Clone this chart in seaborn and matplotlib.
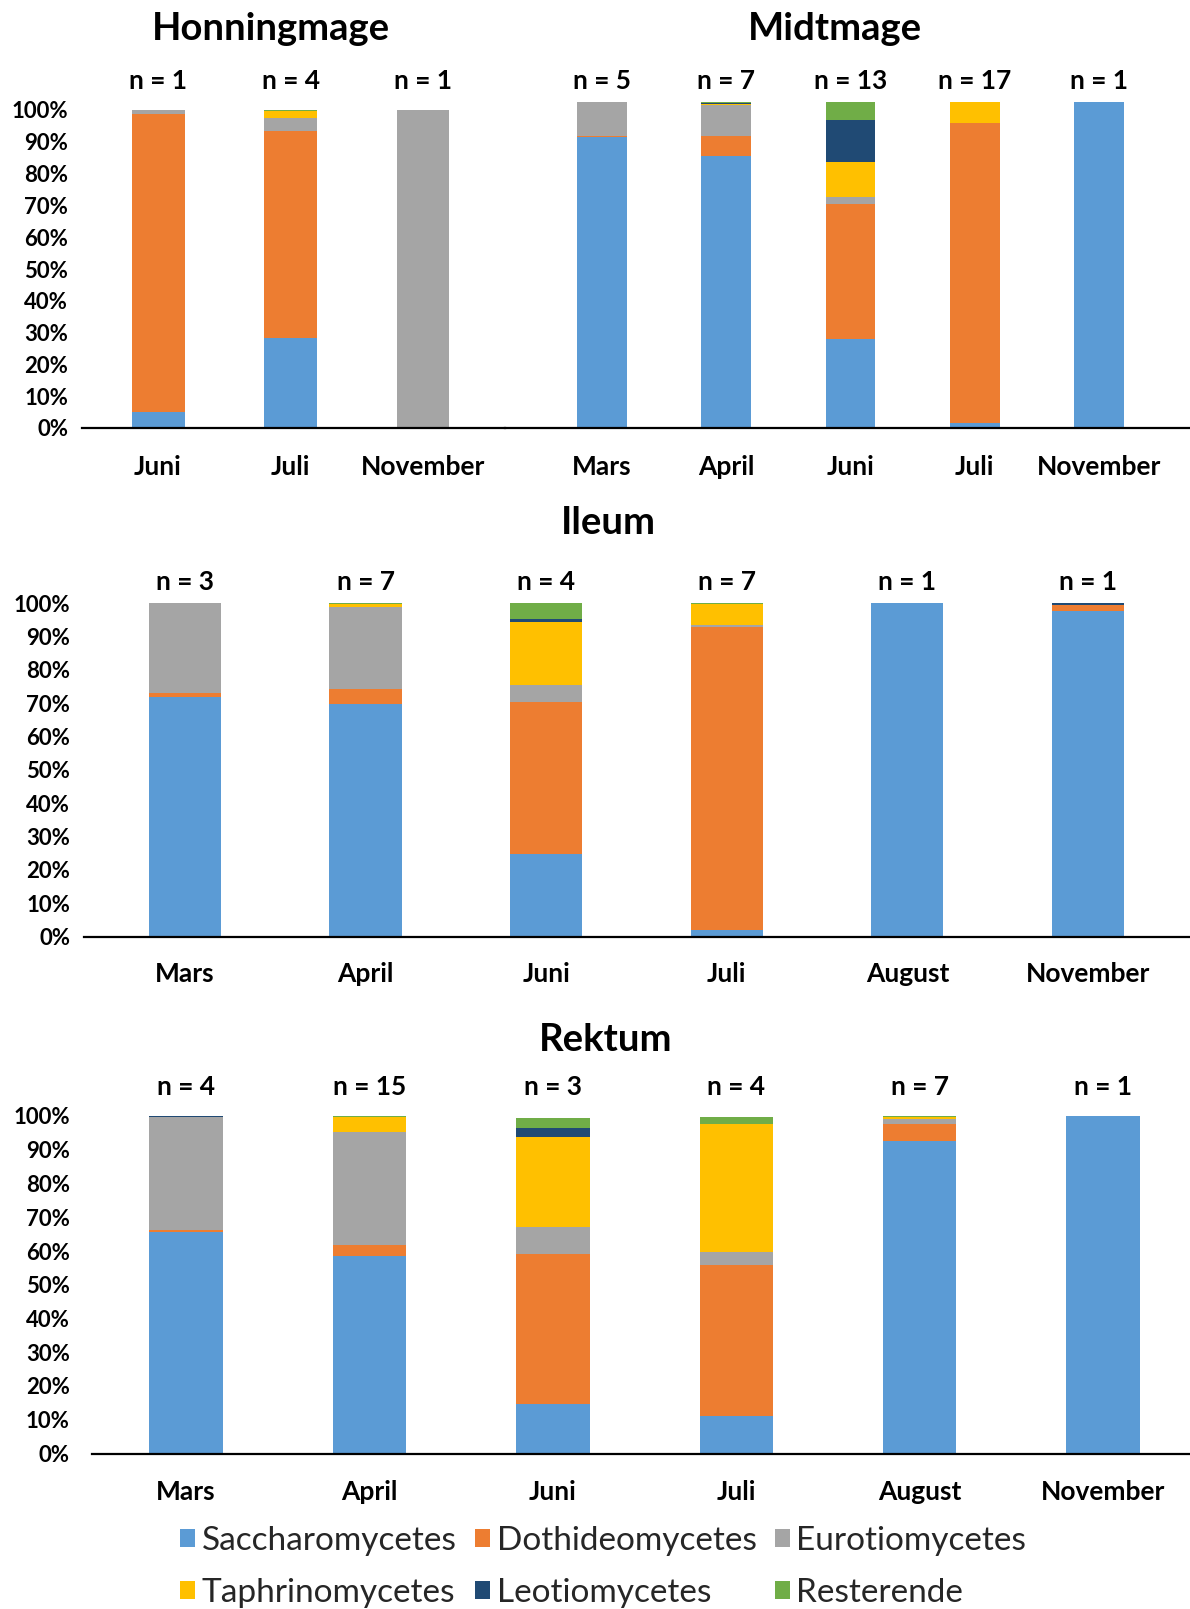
import matplotlib
matplotlib.use("Agg")
import matplotlib.pyplot as plt
import matplotlib.transforms as mtransforms
from matplotlib.patches import Patch
import seaborn as sns
import pandas as pd

# ---------------------------------------------------------------- data (%)
classes = ["Saccharomycetes", "Dothideomycetes", "Eurotiomycetes",
           "Taphrinomycetes", "Leotiomycetes", "Resterende"]
class_colors = ["#5B9BD5", "#ED7D31", "#A5A5A5", "#FFC000", "#204A74", "#70AD47"]

honning_months = ["Juni", "Juli", "November"]
honning_n = [1, 4, 1]
honning_sacch = [5.0, 28.3, 0.0]
honning_dothi = [93.6, 65.2, 0.0]
honning_euro = [1.4, 4.1, 100.0]
honning_taph = [0.0, 2.1, 0.0]
honning_leot = [0.0, 0.0, 0.0]
honning_rest = [0.0, 0.3, 0.0]

midt_months = ["Mars", "April", "Juni", "Juli", "November"]
midt_n = [5, 7, 13, 17, 1]
midt_sacch = [89.0, 83.2, 27.4, 1.5, 100.0]
midt_dothi = [0.4, 6.3, 41.1, 92.0, 0.0]
midt_euro = [10.3, 9.4, 2.4, 0.0, 0.0]
midt_taph = [0.0, 0.3, 10.7, 6.2, 0.0]
midt_leot = [0.3, 0.4, 12.7, 0.0, 0.0]
midt_rest = [0.0, 0.4, 5.7, 0.3, 0.0]

ileum_months = ["Mars", "April", "Juni", "Juli", "August", "November"]
ileum_n = [3, 7, 4, 7, 1, 1]
ileum_sacch = [71.7, 69.8, 24.7, 2.0, 100.0, 97.7]
ileum_dothi = [1.4, 4.3, 45.5, 90.9, 0.0, 1.6]
ileum_euro = [26.9, 24.8, 5.3, 0.4, 0.0, 0.2]
ileum_taph = [0.0, 0.7, 18.7, 6.3, 0.0, 0.0]
ileum_leot = [0.0, 0.0, 1.0, 0.0, 0.0, 0.5]
ileum_rest = [0.0, 0.4, 4.8, 0.4, 0.0, 0.0]

rektum_months = ["Mars", "April", "Juni", "Juli", "August", "November"]
rektum_n = [4, 15, 3, 4, 7, 1]
rektum_sacch = [65.7, 58.6, 14.8, 11.1, 92.6, 100.0]
rektum_dothi = [0.4, 3.3, 44.3, 44.8, 5.1, 0.0]
rektum_euro = [33.5, 33.5, 8.1, 3.7, 1.4, 0.0]
rektum_taph = [0.0, 4.2, 26.6, 38.1, 0.5, 0.0]
rektum_leot = [0.4, 0.0, 2.5, 0.0, 0.0, 0.0]
rektum_rest = [0.0, 0.4, 3.2, 1.9, 0.4, 0.0]

# ---------------------------------------------------------------- styling
sns.set_theme(style="white")
FONT = "Lato"
plt.rcParams["font.family"] = [FONT, "DejaVu Sans"]

W, H = 1190, 1609
fig = plt.figure(figsize=(W / 100, H / 100), dpi=100)
fig.patch.set_facecolor("white")


def add_axes_px(left, right, top, bottom):
    return fig.add_axes([left / W, 1 - bottom / H, (right - left) / W, (bottom - top) / H])


def long_table(months, series):
    rows = []
    for m_i, month in enumerate(months):
        total = 0.0
        for cls, vals in zip(classes, series):
            total += vals[m_i]
            rows.append({"maaned": month, "klasse": cls,
                         "andel": vals[m_i] / 100.0, "kum": total / 100.0})
    return pd.DataFrame(rows)


def stacked_panel(ax, months, series, n_vals, xlim, n_y, label_y,
                  show_y=True, ytick_pad=10):
    df = long_table(months, series)
    # draw cumulative totals from the top class down so each layer shows its share
    for cls, col in reversed(list(zip(classes, class_colors))):
        sub = df[df["klasse"] == cls]
        sns.barplot(data=sub, x="maaned", y="kum", order=months, color=col,
                    width=0.4, errorbar=None, linewidth=0, saturation=1,
                    ax=ax)
    ax.set_xlim(*xlim)
    ax.set_ylim(0, 1)
    ax.set_xlabel("")
    ax.set_ylabel("")
    ax.set_xticks([])
    for s in ["top", "right", "left"]:
        ax.spines[s].set_visible(False)
    ax.spines["bottom"].set_color("black")
    ax.spines["bottom"].set_linewidth(1.6)
    ax.patch.set_alpha(0)
    if show_y:
        ticks = [i / 10 for i in range(11)]
        ax.set_yticks(ticks)
        ax.set_yticklabels([f"{int(t * 100)}%" for t in ticks],
                           fontsize=16, fontweight="bold", color="black")
        ax.tick_params(axis="y", length=0, pad=ytick_pad)
    else:
        ax.set_yticks([])
    trans = mtransforms.blended_transform_factory(ax.transData, fig.transFigure)
    for i, (m, n) in enumerate(zip(months, n_vals)):
        ax.text(i, 1 - n_y / H, f"n = {n}", transform=trans, ha="center",
                va="baseline", fontsize=19, fontweight="bold", color="black")
        ax.text(i, 1 - label_y / H, m, transform=trans, ha="center",
                va="baseline", fontsize=19, fontweight="bold", color="black")


# Honningmage
ax_h = add_axes_px(82, 505, 110, 428)
stacked_panel(ax_h, honning_months,
              [honning_sacch, honning_dothi, honning_euro,
               honning_taph, honning_leot, honning_rest],
              honning_n, (-0.574, 2.619), 89, 475, show_y=True, ytick_pad=10)

# Midtmage
ax_m = add_axes_px(505, 1190, 101.5, 428)
stacked_panel(ax_m, midt_months,
              [midt_sacch, midt_dothi, midt_euro,
               midt_taph, midt_leot, midt_rest],
              midt_n, (-0.781, 4.733), 89, 475, show_y=False)

# Ileum
ax_i = add_axes_px(84, 1190, 603, 936.5)
stacked_panel(ax_i, ileum_months,
              [ileum_sacch, ileum_dothi, ileum_euro,
               ileum_taph, ileum_leot, ileum_rest],
              ileum_n, (-0.559, 5.565), 590.5, 982, show_y=True, ytick_pad=10)

# Rektum
ax_r = add_axes_px(92, 1190, 1116, 1453.5)
stacked_panel(ax_r, rektum_months,
              [rektum_sacch, rektum_dothi, rektum_euro,
               rektum_taph, rektum_leot, rektum_rest],
              rektum_n, (-0.513, 5.474), 1095, 1500, show_y=True, ytick_pad=16)

# section titles
for txt, x, y in [("Honningmage", 271, 40), ("Midtmage", 835, 40),
                  ("Ileum", 608, 534), ("Rektum", 606, 1051)]:
    fig.text(x / W, 1 - y / H, txt, ha="center", va="baseline",
             fontsize=27.5, fontweight="bold", color="black")

# legend (column-major fill: two rows, three columns)
order = [0, 3, 1, 4, 2, 5]
handles = [Patch(facecolor=class_colors[i], edgecolor="none", label=classes[i])
           for i in order]
fig.legend(handles=handles, ncol=3, loc="upper left",
           bbox_to_anchor=(180 / W, 1 - 1526 / H), frameon=False,
           fontsize=24, handlelength=0.45, handleheight=0.45,
           handletextpad=0.2, columnspacing=0.55, labelspacing=0.65,
           borderpad=0, borderaxespad=0)

fig.savefig("out.png", dpi=100, facecolor="white")
